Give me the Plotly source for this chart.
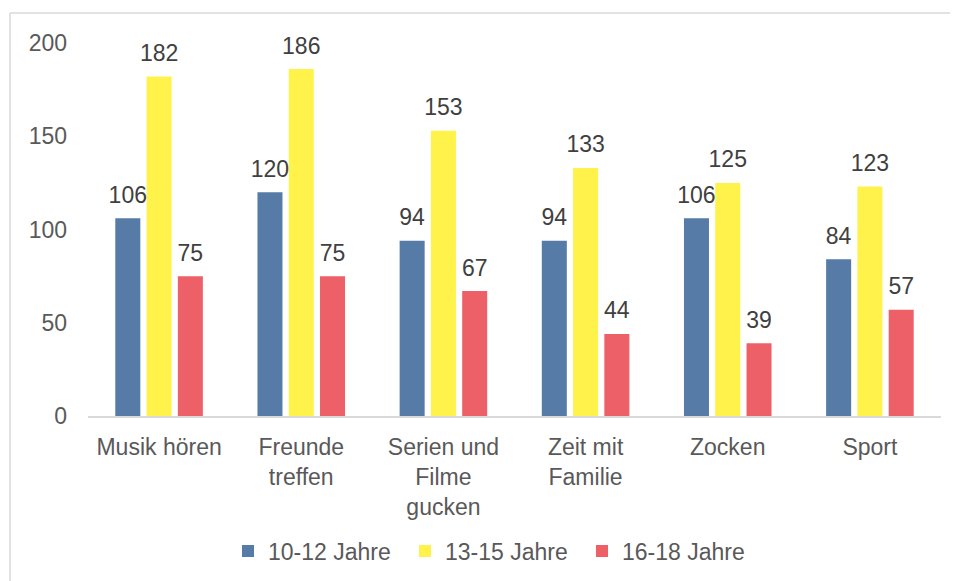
import plotly.graph_objects as go

categories = ["Musik hören", "Freunde<br>treffen", "Serien und<br>Filme<br>gucken", "Zeit mit<br>Familie", "Zocken", "Sport"]
series_names = ["10-12 Jahre", "13-15 Jahre", "16-18 Jahre"]
values_10_12 = [106, 120, 94, 94, 106, 84]
values_13_15 = [182, 186, 153, 133, 125, 123]
values_16_18 = [75, 75, 67, 44, 39, 57]
colors = ["#557BA6", "#FFF24A", "#EE6068"]

FS = 23
FONT = "Liberation Sans, Arial"

fig = go.Figure()
all_vals = [values_10_12, values_13_15, values_16_18]
for i, (name, vals, col) in enumerate(zip(series_names, all_vals, colors)):
    fig.add_trace(go.Bar(
        x=categories, y=vals, name=name, offsetgroup=str(i),
        marker=dict(color=col, line=dict(width=0)),
    ))
for i, (name, vals) in enumerate(zip(series_names, all_vals)):
    fig.add_trace(go.Scatter(
        x=categories, y=vals, mode="markers+text", offsetgroup=str(i),
        marker=dict(size=14, opacity=0), showlegend=False, hoverinfo="skip",
        text=[str(v) for v in vals], textposition="top center",
        textfont=dict(family=FONT, size=FS, color="#404040"),
        cliponaxis=False,
    ))

# page body has an 8px margin, so figure coordinates are shifted by 8
OFF = 8
W, H = 950, 573
L, R, T, B = 88 - OFF, 17, 43 - OFF, 581 - 416
pw = W - L - R
ph = H - T - B

fig.update_layout(
    width=W, height=H,
    margin=dict(l=L, r=R, t=T, b=B, autoexpand=False),
    paper_bgcolor="white", plot_bgcolor="white",
    barmode="group", bargap=0.34, bargroupgap=0.2,
    scattermode="group", scattergap=0.34,
    font=dict(family=FONT, size=FS, color="#595959"),
    showlegend=True,
    legend=dict(orientation="h", x=0.5 - 21 / pw, xanchor="center", y=(416 - 551) / ph, yanchor="middle",
                font=dict(size=FS, color="#595959"), traceorder="normal",
                entrywidth=132, entrywidthmode="pixels"),
    xaxis=dict(showline=True, linecolor="#D9D9D9", linewidth=1.5, ticks="", showgrid=False,
               ticklabelstandoff=10, tickfont=dict(size=FS, color="#595959")),
    yaxis=dict(range=[0, 200], dtick=50, showgrid=False, zeroline=False, showline=False,
               ticks="", ticklabelstandoff=20, tickfont=dict(size=FS, color="#595959")),
)

bx = 10 - OFF
by = 13 - OFF
x0 = (bx - L) / pw
y0 = 1 + (T - by) / ph
fig.add_shape(type="line", xref="paper", yref="paper", x0=x0, x1=x0, y0=y0, y1=-(B + 20) / ph,
              line=dict(color="#D9D9D9", width=1.5))
fig.add_shape(type="line", xref="paper", yref="paper", x0=x0, x1=(W + 20 - L) / pw, y0=y0, y1=y0,
              line=dict(color="#D9D9D9", width=1.5))

fig.write_html("out.html")
